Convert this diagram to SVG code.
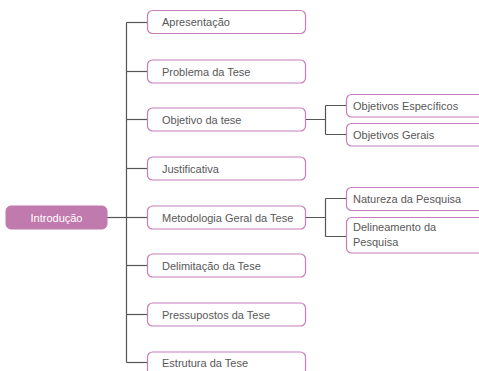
<svg xmlns="http://www.w3.org/2000/svg" width="479" height="371" viewBox="0 0 479 371">
  <style>
    .node { fill: #ffffff; stroke: #c77dbb; stroke-width: 1.2; }
    .root { fill: #c07aae; stroke: #c07aae; }
    .label { font-family: "Liberation Sans", Arial, sans-serif; font-size: 11px; fill: #585858; }
    .rootlabel { font-family: "Liberation Sans", Arial, sans-serif; font-size: 11px; fill: #ffffff; text-anchor: middle; }
    .link { fill: none; stroke: #555555; stroke-width: 1.2; }
  </style>
  <rect width="479" height="371" fill="#ffffff"/>

  <g id="connectors">
    <path class="link" d="M107 217.5H126.5"/>
    <path class="link" d="M126.5 22.5V362.5"/>
    <path class="link" d="M126.5 22.5H147"/>
    <path class="link" d="M126.5 71.5H147"/>
    <path class="link" d="M126.5 119.5H147"/>
    <path class="link" d="M126.5 168.5H147"/>
    <path class="link" d="M126.5 217.5H147"/>
    <path class="link" d="M126.5 265.5H147"/>
    <path class="link" d="M126.5 314.5H147"/>
    <path class="link" d="M126.5 362.5H147"/>
    <path class="link" d="M306 119.5H325.5M325.5 105.5V134.5M325.5 105.5H346M325.5 134.5H346"/>
    <path class="link" d="M306 217.5H325.5M325.5 198.5V236.5M325.5 198.5H346M325.5 236.5H346"/>
  </g>

  <g id="introducao">
    <rect class="root" x="6" y="206" width="101" height="23" rx="5"/>
    <text class="rootlabel" x="56.5" y="221.5">Introdução</text>
  </g>

  <g id="apresentacao">
    <rect class="node" x="147.5" y="10.5" width="158" height="23" rx="5"/>
    <text class="label" x="162" y="26">Apresentação</text>
  </g>
  <g id="problema">
    <rect class="node" x="147.5" y="60" width="158" height="23" rx="5"/>
    <text class="label" x="162" y="75.5">Problema da Tese</text>
  </g>
  <g id="objetivo">
    <rect class="node" x="147.5" y="108" width="158" height="23" rx="5"/>
    <text class="label" x="162" y="123.5">Objetivo da tese</text>
  </g>
  <g id="justificativa">
    <rect class="node" x="147.5" y="157" width="158" height="23" rx="5"/>
    <text class="label" x="162" y="172.5">Justificativa</text>
  </g>
  <g id="metodologia">
    <rect class="node" x="147.5" y="206" width="158" height="23" rx="5"/>
    <text class="label" x="162" y="221.5">Metodologia Geral da Tese</text>
  </g>
  <g id="delimitacao">
    <rect class="node" x="147.5" y="254" width="158" height="23" rx="5"/>
    <text class="label" x="162" y="269.5">Delimitação da Tese</text>
  </g>
  <g id="pressupostos">
    <rect class="node" x="147.5" y="303" width="158" height="23" rx="5"/>
    <text class="label" x="162" y="318.5">Pressupostos da Tese</text>
  </g>
  <g id="estrutura">
    <rect class="node" x="147.5" y="352" width="158" height="23" rx="5"/>
    <text class="label" x="162" y="367">Estrutura da Tese</text>
  </g>

  <g id="objetivos-especificos">
    <rect class="node" x="346.5" y="94.5" width="140" height="22.5" rx="5"/>
    <text class="label" x="353" y="109.5">Objetivos Específicos</text>
  </g>
  <g id="objetivos-gerais">
    <rect class="node" x="346.5" y="123.5" width="140" height="22.5" rx="5"/>
    <text class="label" x="353" y="138.5">Objetivos Gerais</text>
  </g>
  <g id="natureza">
    <rect class="node" x="346.5" y="187.5" width="140" height="23" rx="5"/>
    <text class="label" x="353" y="202.5">Natureza da Pesquisa</text>
  </g>
  <g id="delineamento">
    <rect class="node" x="346.5" y="217.5" width="140" height="35.5" rx="5"/>
    <text class="label" x="353" y="231">Delineamento da</text>
    <text class="label" x="353" y="245.5">Pesquisa</text>
  </g>
</svg>
